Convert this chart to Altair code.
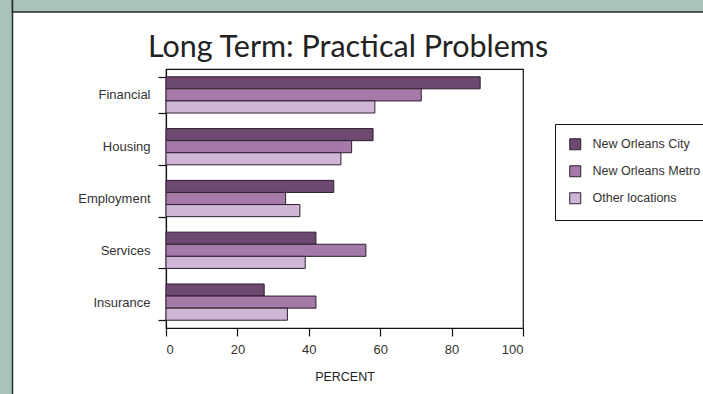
import altair as alt
import pandas as pd

title_text = "Long Term: Practical Problems"
categories = ["Financial", "Housing", "Employment", "Services", "Insurance"]
series = ["New Orleans City", "New Orleans Metro", "Other locations"]
city = [88, 58, 47, 42, 27.5]
metro = [71.5, 52, 33.5, 56, 42]
other = [58.5, 49, 37.5, 39, 34]
x_ticks = [0, 20, 40, 60, 80, 100]
colors = ["#6d4870", "#a57aa8", "#cfb6d7"]

rows = []
for name, vals in zip(series, [city, metro, other]):
    for c, v in zip(categories, vals):
        rows.append({"category": c, "location": name, "percent": v})
df = pd.DataFrame(rows)
one = pd.DataFrame({"k": [0]})

GREEN = "#a8c3bc"
EDGE = "#2a2a2a"
FONT = "Liberation Sans"

left_strip = alt.Chart(one).mark_rect(fill=GREEN, stroke=EDGE, strokeWidth=1.5).encode(
    x=alt.value(-180), x2=alt.value(-153.5), y=alt.value(-90), y2=alt.value(400)
)
top_strip = alt.Chart(one).mark_rect(fill=GREEN, stroke=EDGE, strokeWidth=1.5).encode(
    x=alt.value(-153.5), x2=alt.value(600), y=alt.value(-90), y2=alt.value(-57)
)
title = alt.Chart(one).mark_text(
    font="Lato", fontSize=30.5, color="#222", align="center", baseline="alphabetic"
).encode(x=alt.value(182), y=alt.value(-12), text=alt.value(title_text))

bars = alt.Chart(df).mark_bar(stroke="#2e1f30", strokeWidth=1).encode(
    x=alt.X(
        "percent:Q",
        scale=alt.Scale(domain=[0, 100], nice=False),
        axis=alt.Axis(
            values=x_ticks, title="PERCENT", grid=False, tickSize=8, labelPadding=7,
            labelFontSize=13, labelColor="#333", titleFontSize=12.5, titleFontWeight="normal",
            titleColor="#222", titlePadding=14, domainColor="#111", tickColor="#111",
            domainWidth=1.2, tickWidth=1.2, labelFont=FONT, titleFont=FONT,
        ),
    ),
    y=alt.Y(
        "category:N",
        sort=categories,
        scale=alt.Scale(paddingInner=0.3, paddingOuter=0.15),
        axis=alt.Axis(
            title=None, tickSize=8, labelPadding=8, labelFontSize=13, labelColor="#333",
            tickBand="extent", domainColor="#111", tickColor="#111", domainWidth=1.2,
            tickWidth=1.2, labelFont=FONT,
        ),
    ),
    yOffset=alt.YOffset("location:N", sort=series, scale=alt.Scale(paddingInner=0, paddingOuter=0)),
    color=alt.Color(
        "location:N",
        sort=series,
        scale=alt.Scale(domain=series, range=colors),
        legend=alt.Legend(
            title=None, orient="none", legendX=389, legendY=55, padding=14,
            strokeColor="#111", fillColor="white", symbolType="square", symbolSize=121,
            symbolStrokeColor="#2e1f30", symbolStrokeWidth=1, labelFontSize=12.5,
            labelColor="#333", rowPadding=11, labelOffset=11, labelFont=FONT,
        ),
    ),
)

chart = alt.layer(left_strip, top_strip, bars, title).properties(
    width=357,
    height=259,
    padding={"left": 166, "top": 69, "right": 180, "bottom": 66},
    autosize=alt.AutoSizeParams(type="none"),
    background="white",
).configure_view(stroke="#111", strokeWidth=1.2)

chart.save("out.html", embed_options={"renderer": "svg", "actions": False})
